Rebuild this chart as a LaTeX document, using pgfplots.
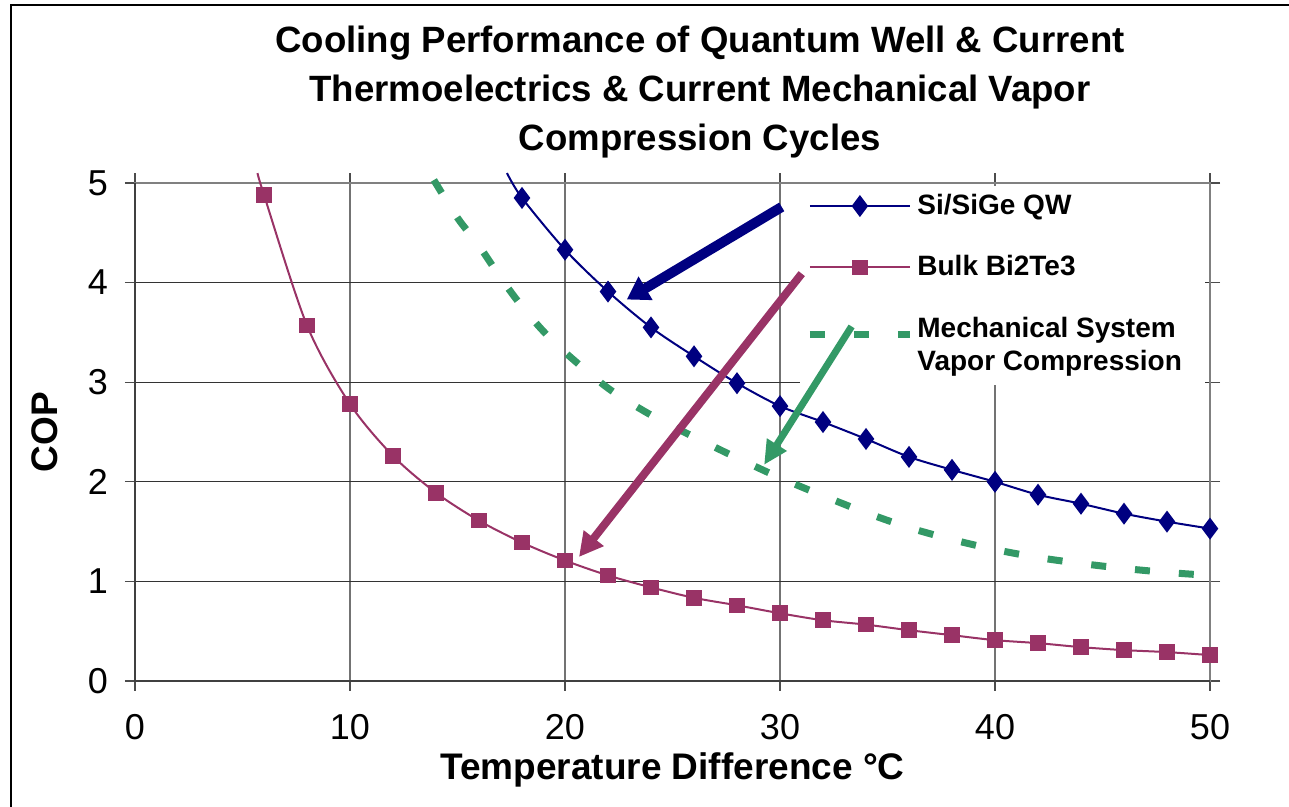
\documentclass[border=0pt]{standalone}
\usepackage{fontspec}
\setmainfont{Liberation Sans}
\usepackage{pgfplots}
\pgfplotsset{compat=1.18}
\usetikzlibrary{arrows.meta}
\definecolor{qwblue}{RGB}{0,0,128}
\definecolor{bimag}{RGB}{153,51,102}
\definecolor{mechgreen}{RGB}{51,153,102}
\pgfplotsset{
  mymarkimg/.style={legend image code/.code={\draw[##1, mark indices={2}] plot coordinates {(0pt,0pt) (25pt,0pt) (50pt,0pt)};}},
  mylineimg/.style={legend image code/.code={\draw[##1] (0pt,5.5pt) -- (50pt,5.5pt);}},
}
\begin{document}
\begin{tikzpicture}
\path[use as bounding box] (-67.5pt,-63pt) rectangle (577pt,340.5pt);
\begin{axis}[
  at={(0pt,0pt)}, anchor=south west,
  scale only axis, width=537.5pt, height=249pt,
  xmin=0, xmax=50, ymin=0, ymax=5,
  xtick={0,10,...,50}, ytick={0,1,...,5},
  clip=false,
  tick align=outside, major tick length=5pt,
  tick style={black!70, line width=0.6pt},
  xmajorgrids, ymajorgrids,
  x grid style={black!55, line width=0.6pt},
  y grid style={black!80, line width=0.5pt},
  axis line style={black!50, line width=0.8pt},
  /pgf/number format/assume math mode=true,
  ticklabel style={font=\fontsize{18}{20}\selectfont},
  xticklabel style={yshift=-8pt},
  yticklabel style={xshift=-5pt},
  xlabel={Temperature Difference °C},
  ylabel={COP},
  label style={font=\fontsize{18.5}{22}\selectfont\bfseries},
  xlabel style={at={(axis description cs:0.5,-0.179)}, anchor=center},
  ylabel style={at={(axis description cs:-0.0837,0.5)}, anchor=center},
  legend style={at={(rel axis cs:0.6186,0.994)}, anchor=north west, draw=none, fill=none,
    font=\fontsize{14}{16.5}\selectfont\bfseries, row sep=15pt, nodes={align=left}},
  legend cell align=left,
]
\fill[white] (rel axis cs:0.6186,0.994) rectangle (rel axis cs:0.9953,0.594);
\draw[black!75, line width=1pt] (rel axis cs:0,1) -- (rel axis cs:0,0) -- (rel axis cs:1,0);

\addplot[qwblue, line width=1pt, smooth, mark=diamond*, mark size=4.7pt, mymarkimg,
  mark indices={2,...,18}, mark options={solid, fill=qwblue, draw=qwblue}]
  coordinates {(17.3,5.1) (18,4.85) (20,4.33) (22,3.91) (24,3.55) (26,3.26) (28,2.99) (30,2.76) (32,2.60) (34,2.43) (36,2.25) (38,2.12) (40,2.00) (42,1.87) (44,1.78) (46,1.68) (48,1.60) (50,1.53)};
\addlegendentry{Si/SiGe QW}

\addplot[bimag, line width=1pt, smooth, mark=square*, mark size=3.4pt, mymarkimg,
  mark indices={2,...,24}, mark options={solid, fill=bimag, draw=bimag}]
  coordinates {(5.7,5.1) (6,4.88) (8,3.57) (10,2.78) (12,2.26) (14,1.89) (16,1.61) (18,1.39) (20,1.21) (22,1.06) (24,0.94) (26,0.835) (28,0.76) (30,0.68) (32,0.61) (34,0.566) (36,0.51) (38,0.46) (40,0.41) (42,0.38) (44,0.34) (46,0.31) (48,0.29) (50,0.26)};
\addlegendentry{Bulk Bi2Te3}

\addplot[mechgreen, line width=3.5pt, smooth, dash pattern=on 7.5pt off 14.5pt, no marks, mylineimg]
  coordinates {(13.9,5.03) (15,4.65) (16,4.37) (17,4.05) (18,3.76) (19,3.51) (20,3.30) (22,2.94) (24,2.67) (26,2.45) (28,2.24) (30,2.04) (32,1.86) (34,1.69) (36,1.54) (38,1.42) (40,1.32) (42,1.24) (44,1.18) (46,1.13) (48,1.09) (50,1.06)};
\addlegendentry{Mechanical System\\Vapor Compression}

\coordinate (bt) at (axis cs:30.08,4.76);
\coordinate (bh) at (axis cs:22.87,3.83);
\coordinate (mt) at (axis cs:31.01,4.09);
\coordinate (mh) at (axis cs:20.65,1.245);
\coordinate (gt) at (axis cs:33.33,3.56);
\coordinate (gh) at (axis cs:29.26,2.17);
\end{axis}
\draw[qwblue, line width=5pt, -{Triangle[width=13pt,length=11pt]}] (bt) -- (bh);
\draw[bimag, line width=4pt, -{Triangle[width=12pt,length=12pt]}] (mt) -- (mh);
\draw[mechgreen, line width=3.5pt, -{Triangle[width=11pt,length=12pt]}] (gt) -- (gh);
\draw[black, line width=0.8pt] (-62pt,-63pt) -- (-62pt,338pt) -- (577pt,338pt);
\node[align=center, font=\fontsize{18.3}{24.5}\selectfont\bfseries] at (282.5pt,294.5pt)
  {Cooling Performance of Quantum Well \& Current\\Thermoelectrics \& Current Mechanical Vapor\\Compression Cycles};
\end{tikzpicture}
\end{document}
